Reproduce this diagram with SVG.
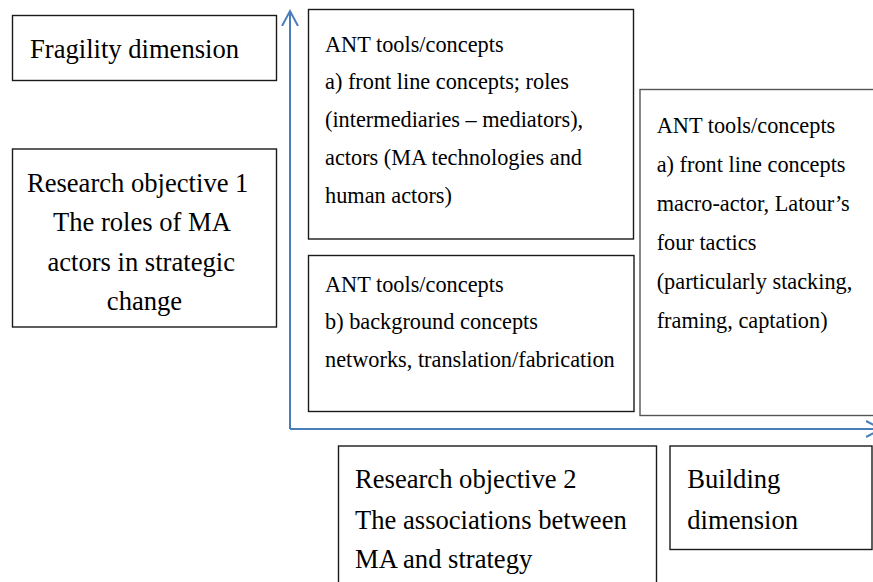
<svg xmlns="http://www.w3.org/2000/svg" width="873" height="582" viewBox="0 0 873 582">
  <style>
    .box { fill: #ffffff; stroke: #1a1a1a; stroke-width: 1.4; }
    .box-light { fill: #ffffff; stroke: #555555; stroke-width: 1.4; }
    .big { font-family: "Liberation Serif", "Times New Roman", serif; font-size: 26.6px; fill: #000000; }
    .small { font-family: "Liberation Serif", "Times New Roman", serif; font-size: 22.3px; fill: #000000; }
    .axis { fill: none; stroke: #4a7ebb; stroke-width: 2; }
  </style>
  <defs>
    <marker id="openArrow" markerWidth="18" markerHeight="20" refX="15" refY="9" orient="auto" markerUnits="userSpaceOnUse">
      <path d="M0,1 L15,9 L0,17" fill="none" stroke="#4a7ebb" stroke-width="2"/>
    </marker>
  </defs>
  <rect width="873" height="582" fill="#ffffff"/>

  <!-- axes: fragility (up) and building (right) -->
  <g id="connectors">
    <path class="axis" d="M290,429 L290,11" marker-end="url(#openArrow)"/>
    <path class="axis" d="M290,429 L881,429" marker-end="url(#openArrow)"/>
  </g>

  <g id="fragility-dimension">
    <rect class="box" x="12.5" y="15.5" width="264" height="65"/>
    <text class="big" x="30" y="58.3">Fragility dimension</text>
  </g>

  <g id="research-objective-1">
    <rect class="box" x="12.5" y="149" width="264" height="178"/>
    <text class="big" text-anchor="middle">
      <tspan x="141" y="191.5">Research objective 1</tspan>
      <tspan x="144.5" y="231">The roles of MA</tspan>
      <tspan x="144.5" y="270.5">actors in strategic</tspan>
      <tspan x="144.5" y="310">change</tspan>
    </text>
  </g>

  <g id="ant-front-line-roles">
    <rect class="box" x="308.5" y="9.5" width="325" height="229.5"/>
    <text class="small">
      <tspan x="325" y="51.7">ANT tools/concepts</tspan>
      <tspan x="325" y="89.4">a) front line concepts; roles</tspan>
      <tspan x="325" y="127.2">(intermediaries – mediators),</tspan>
      <tspan x="325" y="165">actors (MA technologies and</tspan>
      <tspan x="325" y="202.7">human actors)</tspan>
    </text>
  </g>

  <g id="ant-background">
    <rect class="box" x="308.5" y="255.5" width="325.5" height="156"/>
    <text class="small">
      <tspan x="325" y="291.7">ANT tools/concepts</tspan>
      <tspan x="325" y="329.3">b) background concepts</tspan>
      <tspan x="325" y="366.8">networks, translation/fabrication</tspan>
    </text>
  </g>

  <g id="ant-front-line-tactics">
    <rect class="box-light" x="640" y="89.5" width="245" height="326"/>
    <text class="small">
      <tspan x="656.7" y="133">ANT tools/concepts</tspan>
      <tspan x="656.7" y="172">a) front line concepts</tspan>
      <tspan x="656.7" y="211">macro-actor, Latour’s</tspan>
      <tspan x="656.7" y="250">four tactics</tspan>
      <tspan x="656.7" y="289">(particularly stacking,</tspan>
      <tspan x="656.7" y="328">framing, captation)</tspan>
    </text>
  </g>

  <g id="research-objective-2">
    <rect class="box" x="338.5" y="446" width="318" height="150"/>
    <text class="big">
      <tspan x="355" y="488.3">Research objective 2</tspan>
      <tspan x="355" y="528.5">The associations between</tspan>
      <tspan x="355" y="567.5">MA and strategy</tspan>
    </text>
  </g>

  <g id="building-dimension">
    <rect class="box" x="670" y="446" width="202" height="103.5"/>
    <text class="big">
      <tspan x="687.3" y="488.3">Building</tspan>
      <tspan x="687.3" y="528.5">dimension</tspan>
    </text>
  </g>
</svg>
